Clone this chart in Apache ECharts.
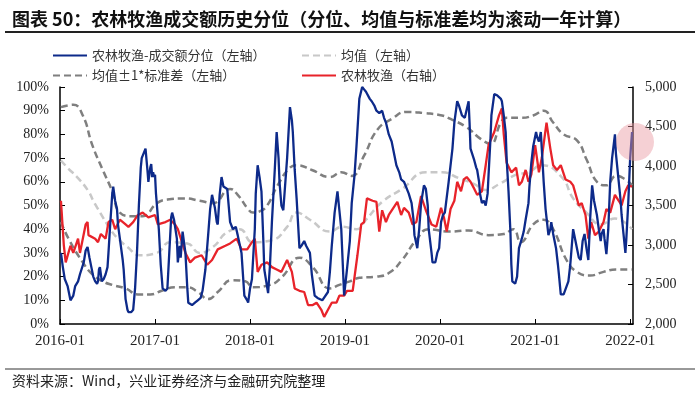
<!DOCTYPE html>
<html>
<head>
<meta charset="utf-8">
<script src="https://cdn.jsdelivr.net/npm/echarts@6/dist/echarts.min.js"></script>
<style>
  html, body { margin: 0; padding: 0; background: #fff; }
  #chart { width: 700px; height: 398px; }
</style>
</head>
<body>
<div id="chart"></div>
<script>
// 农林牧渔-成交额分位（左轴, %），x 为小数年份
var quantile = [
  [2016.01,30],[2016.03,24],[2016.05,19],[2016.08,16],[2016.11,10],[2016.14,12],[2016.16,16],[2016.19,18],
  [2016.21,21],[2016.25,26],[2016.27,31],[2016.29,32.5],[2016.31,28],[2016.33,24],[2016.35,20],[2016.37,18],
  [2016.39,17],[2016.40,18],[2016.41,23],[2016.42,24],[2016.44,18],[2016.46,19],[2016.48,21],[2016.50,24],
  [2016.51,30],[2016.53,43],[2016.55,55],[2016.56,58],[2016.58,52],[2016.60,48.5],[2016.61,42],[2016.63,36],
  [2016.66,27],[2016.67,23],[2016.69,10.5],[2016.71,6],[2016.72,5],[2016.75,5],[2016.77,6],[2016.79,15],
  [2016.81,30],[2016.83,50],[2016.85,66],[2016.86,70],[2016.90,74],[2016.92,65],[2016.93,60],[2016.95,66],
  [2016.96,67.5],[2016.97,62],[2016.98,64],[2016.99,62],[2017.00,63],[2017.01,55],[2017.03,45],[2017.04,40],
  [2017.06,25],[2017.08,15],[2017.11,14],[2017.13,15],[2017.15,30],[2017.17,45],[2017.18,47],[2017.20,44],
  [2017.23,36],[2017.24,26],[2017.26,33],[2017.27,28],[2017.29,39],[2017.32,30],[2017.34,15],[2017.35,9],
  [2017.39,8],[2017.42,9],[2017.45,10],[2017.48,11],[2017.50,14],[2017.53,23],[2017.56,38],[2017.58,48.5],
  [2017.60,54.5],[2017.63,49],[2017.65,43],[2017.66,42],[2017.68,54.5],[2017.70,62],[2017.72,58],[2017.76,57],
  [2017.79,43],[2017.82,40],[2017.85,41],[2017.87,37.5],[2017.91,30],[2017.94,12],[2017.97,10],[2017.98,9],
  [2018.00,15],[2018.02,19],[2018.05,40],[2018.06,55],[2018.08,67],[2018.10,62],[2018.12,56],[2018.14,35],
  [2018.15,23],[2018.19,13],[2018.21,25],[2018.23,43],[2018.26,65],[2018.28,81],[2018.30,70],[2018.31,60],
  [2018.33,50],[2018.35,48],[2018.39,70],[2018.42,91.5],[2018.44,86],[2018.45,81],[2018.47,65],[2018.49,53],
  [2018.52,32],[2018.54,33],[2018.57,35],[2018.59,33],[2018.63,30],[2018.65,21],[2018.68,12],[2018.71,11],
  [2018.73,10.5],[2018.76,10],[2018.78,10],[2018.82,13.5],[2018.84,22],[2018.86,33],[2018.89,47],[2018.92,56],
  [2018.94,48],[2018.96,40],[2018.99,12],[2019.02,23],[2019.05,35],[2019.07,51],[2019.10,63],[2019.12,75],
  [2019.15,95],[2019.18,100],[2019.20,99],[2019.22,98],[2019.26,95],[2019.28,94],[2019.31,92],[2019.33,90],
  [2019.36,89],[2019.39,90],[2019.41,87],[2019.43,85],[2019.46,80],[2019.49,77],[2019.52,71],[2019.54,67],
  [2019.57,64],[2019.59,61],[2019.62,60],[2019.64,60],[2019.67,55],[2019.70,51],[2019.72,44],[2019.73,37.5],
  [2019.76,32],[2019.78,40],[2019.80,51],[2019.83,58.5],[2019.85,57],[2019.87,50],[2019.88,40],[2019.91,30],
  [2019.92,26],[2019.95,26],[2019.97,30],[2019.99,32],[2020.01,43],[2020.03,46],[2020.05,47],[2020.07,47],
  [2020.09,60],[2020.13,74],[2020.15,85],[2020.18,94],[2020.20,92],[2020.23,88],[2020.26,87],[2020.28,86.5],
  [2020.30,94],[2020.31,85],[2020.32,74],[2020.36,69],[2020.38,66],[2020.39,65],[2020.41,60],[2020.42,55],
  [2020.44,51],[2020.46,52],[2020.48,50],[2020.50,55],[2020.51,63],[2020.53,78],[2020.54,88],[2020.57,97],
  [2020.60,96.5],[2020.62,96.5],[2020.64,95],[2020.65,94],[2020.67,88],[2020.69,81],[2020.70,70],[2020.72,56],
  [2020.74,39],[2020.75,25],[2020.76,18],[2020.79,17],[2020.80,16.5],[2020.81,20],[2020.83,32],[2020.86,36],
  [2020.88,39],[2020.90,44],[2020.93,51],[2020.94,58],[2020.96,68],[2020.98,75],[2021.01,81],[2021.02,79],
  [2021.04,77],[2021.06,81],[2021.07,74],[2021.09,60],[2021.11,48.5],[2021.14,37.5],[2021.16,40],[2021.17,43],
  [2021.19,38],[2021.22,32],[2021.24,25],[2021.25,21],[2021.27,12.5],[2021.30,12.5],[2021.32,13],[2021.35,18],
  [2021.37,25],[2021.40,40],[2021.41,38],[2021.44,32],[2021.46,28],[2021.48,27],[2021.50,35],[2021.52,38],
  [2021.54,32],[2021.56,27],[2021.58,45],[2021.60,58.5],[2021.62,52],[2021.65,46],[2021.67,40],[2021.69,35],
  [2021.70,38],[2021.72,40],[2021.73,36],[2021.75,29.5],[2021.77,40],[2021.79,60],[2021.81,70],[2021.84,80],
  [2021.85,72],[2021.88,60],[2021.90,52],[2021.91,46],[2021.93,38],[2021.95,30],[2021.96,36],[2021.98,51],
  [2022.00,70],[2022.02,81]
];

// 农林牧渔指数（右轴）
var sectorIndex = [
  [2016.01,3560],[2016.04,3000],[2016.06,2780],[2016.11,2990],[2016.14,2900],[2016.19,3080],[2016.21,2900],
  [2016.27,3260],[2016.29,3290],[2016.30,3125],[2016.37,3080],[2016.40,3035],[2016.43,3140],[2016.48,3080],
  [2016.51,3290],[2016.55,3320],[2016.58,3200],[2016.63,3320],[2016.69,3260],[2016.72,3230],[2016.77,3290],
  [2016.82,3380],[2016.87,3410],[2016.93,3350],[2017.00,3380],[2017.03,3260],[2017.11,3290],[2017.16,3320],
  [2017.21,3260],[2017.24,3200],[2017.28,3050],[2017.32,2900],[2017.37,2780],[2017.42,2840],[2017.49,2870],
  [2017.55,2750],[2017.60,2810],[2017.66,2945],[2017.74,2990],[2017.79,3020],[2017.86,3080],[2017.91,2945],
  [2017.97,2945],[2018.02,3035],[2018.05,3080],[2018.08,2660],[2018.12,2750],[2018.18,2780],[2018.23,2720],
  [2018.28,2690],[2018.33,2660],[2018.39,2810],[2018.44,2660],[2018.47,2450],[2018.52,2420],[2018.57,2405],
  [2018.61,2240],[2018.66,2240],[2018.70,2270],[2018.75,2180],[2018.78,2090],[2018.82,2180],[2018.86,2270],
  [2018.91,2270],[2018.94,2360],[2018.99,2360],[2019.02,2420],[2019.08,2420],[2019.13,2870],[2019.17,3260],
  [2019.20,3290],[2019.23,3590],[2019.29,3560],[2019.33,3545],[2019.36,3170],[2019.39,3440],[2019.43,3290],
  [2019.46,3380],[2019.50,3455],[2019.55,3545],[2019.59,3380],[2019.62,3470],[2019.67,3410],[2019.71,3260],
  [2019.75,3290],[2019.80,3620],[2019.85,3440],[2019.91,3260],[2019.96,3230],[2020.01,3470],[2020.04,3350],
  [2020.07,3170],[2020.11,3455],[2020.15,3560],[2020.18,3800],[2020.22,3680],[2020.25,3830],[2020.28,3860],
  [2020.32,3800],[2020.36,3710],[2020.39,3635],[2020.44,3680],[2020.48,4010],[2020.51,4265],[2020.57,4430],
  [2020.62,4640],[2020.65,4730],[2020.67,4400],[2020.70,4040],[2020.75,3920],[2020.80,3980],[2020.83,3755],
  [2020.86,3800],[2020.90,3950],[2020.93,3800],[2020.96,3890],[2021.00,4265],[2021.04,3920],[2021.07,4100],
  [2021.12,4550],[2021.16,4220],[2021.19,4010],[2021.23,3950],[2021.27,4010],[2021.32,3830],[2021.37,3800],
  [2021.40,3755],[2021.46,3500],[2021.49,3530],[2021.53,3380],[2021.56,3080],[2021.59,3290],[2021.63,3125],
  [2021.67,3170],[2021.72,3290],[2021.75,3455],[2021.79,3410],[2021.84,3635],[2021.88,3560],[2021.91,3500],
  [2021.95,3680],[2021.98,3755],[2022.02,3740]
];

// 滚动一年均值（左轴）
var rollingMean = [
  [2016.01,69],[2016.09,65.5],[2016.18,62],[2016.30,56],[2016.35,52],[2016.40,48.5],[2016.53,40],[2016.61,36],
  [2016.71,32.5],[2016.84,29],[2017.02,30],[2017.16,34.5],[2017.34,34],[2017.47,30],[2017.61,32.5],[2017.77,39],
  [2017.89,40],[2018.03,34.5],[2018.24,35.5],[2018.39,41],[2018.49,47],[2018.63,44],[2018.84,39],[2018.97,41],
  [2019.12,40],[2019.22,44],[2019.39,51.5],[2019.60,57],[2019.85,64],[2020.02,64],[2020.20,61.5],[2020.36,59],
  [2020.48,56.5],[2020.62,59],[2020.80,63],[2020.93,64],[2021.07,67],[2021.28,62],[2021.40,53],[2021.54,47],
  [2021.69,42],[2021.84,44.5],[2022.02,40]
];

// 均值 + 1 倍标准差（左轴）
var upperBand = [
  [2016.01,91.5],[2016.14,92.5],[2016.24,88],[2016.34,75.5],[2016.45,65],[2016.55,56],[2016.63,47],[2016.76,45.5],
  [2016.87,45.5],[2017.02,51],[2017.13,52.5],[2017.31,53],[2017.47,52],[2017.61,51],[2017.79,57],[2017.87,54.5],
  [2017.98,48.5],[2018.03,47],[2018.10,47.5],[2018.18,50],[2018.29,58.5],[2018.42,66],[2018.49,67],[2018.65,65],
  [2018.84,62],[2018.96,64],[2019.07,62.5],[2019.20,71],[2019.34,82],[2019.49,86.5],[2019.65,89.5],[2019.83,89],
  [2020.02,88],[2020.11,86.5],[2020.28,83],[2020.43,78],[2020.53,76],[2020.64,85],[2020.70,87],[2020.86,87],
  [2020.98,88],[2021.09,90],[2021.19,85],[2021.30,80],[2021.44,77.5],[2021.54,69.5],[2021.65,60],[2021.75,58.5],
  [2021.85,62.5],[2021.95,61],[2022.02,58.5]
];

// 均值 - 1 倍标准差（左轴）
var lowerBand = [
  [2016.01,43],[2016.09,36],[2016.24,26],[2016.34,21],[2016.45,18],[2016.55,16.5],[2016.69,15],[2016.82,12.5],
  [2016.95,12.5],[2017.07,14],[2017.21,15.5],[2017.34,15.5],[2017.45,13.5],[2017.56,10.5],[2017.66,13.5],
  [2017.81,18.5],[2017.95,18],[2018.03,15.5],[2018.21,16.5],[2018.34,20],[2018.52,28],[2018.66,24],[2018.84,15],
  [2018.94,16.5],[2019.05,18],[2019.15,19.5],[2019.33,20],[2019.46,21.5],[2019.60,27],[2019.75,35.5],
  [2019.88,40],[2020.09,39],[2020.30,39.5],[2020.51,37.5],[2020.67,38],[2020.77,40],[2020.85,34.5],[2020.98,42],
  [2021.09,44],[2021.19,40],[2021.33,27],[2021.44,22],[2021.58,20.5],[2021.72,22],[2021.85,23],[2022.02,23]
];

var seriesNames = ['农林牧渔-成交额分位（左轴）', '均值（左轴）', '均值±1*标准差（左轴）', '农林牧渔（右轴）'];
var axisFont = 'Liberation Serif';
var cjkFont = 'Noto Sans CJK SC';

var chart = echarts.init(document.getElementById('chart'));

// 每个图例单独定位，只画线段不画标记点
function legendAt(name, left, top) {
  return {
    data: [name],
    left: left,
    top: top,
    itemWidth: 34,
    itemHeight: 10,
    itemGap: 4,
    selectedMode: false,
    itemStyle: { opacity: 0 },
    textStyle: { fontFamily: cjkFont, fontSize: 13, color: '#333' }
  };
}

chart.setOption({
  backgroundColor: '#fff',
  animation: false,
  title: {
    text: '图表 50：农林牧渔成交额历史分位（分位、均值与标准差均为滚动一年计算）',
    left: 7,
    top: 5,
    textStyle: { fontFamily: cjkFont, fontSize: 18, fontWeight: 'bold', color: '#111' }
  },
  legend: [
    legendAt(seriesNames[0], 47, 44),
    legendAt(seriesNames[1], 296, 44),
    legendAt(seriesNames[2], 47, 64),
    legendAt(seriesNames[3], 296, 64)
  ],
  grid: { left: 60, right: 67, top: 87, bottom: 74 },
  xAxis: {
    type: 'value',
    min: 2016,
    max: 2022.03,
    interval: 1,
    axisLine: { lineStyle: { color: '#000', width: 1.5 } },
    axisTick: { inside: true, length: 5, lineStyle: { color: '#000' } },
    splitLine: { show: false },
    axisLabel: {
      formatter: function (v) { return v + '-01'; },
      fontFamily: axisFont, fontSize: 15, color: '#222', margin: 10
    }
  },
  yAxis: [
    {
      type: 'value',
      min: 0,
      max: 100,
      interval: 10,
      axisLine: { show: true, lineStyle: { color: '#000', width: 1.5 } },
      axisTick: { show: true, inside: true, length: 5, lineStyle: { color: '#000' } },
      splitLine: { show: false },
      axisLabel: { formatter: '{value}%', fontFamily: axisFont, fontSize: 14, color: '#222', margin: 11 }
    },
    {
      type: 'value',
      min: 2000,
      max: 5000,
      interval: 500,
      position: 'right',
      axisLine: { show: true, lineStyle: { color: '#000', width: 1.5 } },
      axisTick: { show: true, inside: true, length: 5, lineStyle: { color: '#000' } },
      splitLine: { show: false },
      axisLabel: { fontFamily: axisFont, fontSize: 14, color: '#222', margin: 12 }
    }
  ],
  series: [
    {
      name: seriesNames[2],
      type: 'line',
      data: upperBand,
      smooth: true,
      symbol: 'none',
      lineStyle: { color: '#7f7f7f', width: 2.5, type: [7, 4] },
      itemStyle: { color: '#7f7f7f' },
      z: 1
    },
    {
      name: seriesNames[2],
      type: 'line',
      data: lowerBand,
      smooth: true,
      symbol: 'none',
      lineStyle: { color: '#7f7f7f', width: 2.5, type: [7, 4] },
      itemStyle: { color: '#7f7f7f' },
      z: 1
    },
    {
      name: seriesNames[1],
      type: 'line',
      data: rollingMean,
      smooth: true,
      symbol: 'none',
      lineStyle: { color: '#c8c8c8', width: 2.5, type: [7, 4] },
      itemStyle: { color: '#c8c8c8' },
      z: 1
    },
    {
      name: seriesNames[3],
      type: 'line',
      yAxisIndex: 1,
      data: sectorIndex,
      symbol: 'none',
      lineStyle: { color: '#e8232a', width: 2.3 },
      itemStyle: { color: '#e8232a' },
      z: 2
    },
    {
      name: seriesNames[0],
      type: 'line',
      data: quantile,
      symbol: 'none',
      lineStyle: { color: '#0d2a8a', width: 2.3 },
      itemStyle: { color: '#0d2a8a' },
      z: 3
    }
  ],
  graphic: [
    { type: 'line', shape: { x1: 5, y1: 32, x2: 695, y2: 32 }, style: { stroke: '#222', lineWidth: 2 } },
    { type: 'line', shape: { x1: 5, y1: 369, x2: 695, y2: 369 }, style: { stroke: '#333', lineWidth: 1 } },
    {
      type: 'text', left: 12, top: 374,
      style: { text: '资料来源：Wind，兴业证券经济与金融研究院整理', fontFamily: cjkFont, fontSize: 14, fill: '#222' }
    },
    {
      type: 'circle', shape: { cx: 635, cy: 142, r: 19 }, z: 100,
      style: { fill: 'rgba(232,150,160,0.45)' }
    }
  ]
});
</script>
</body>
</html>
